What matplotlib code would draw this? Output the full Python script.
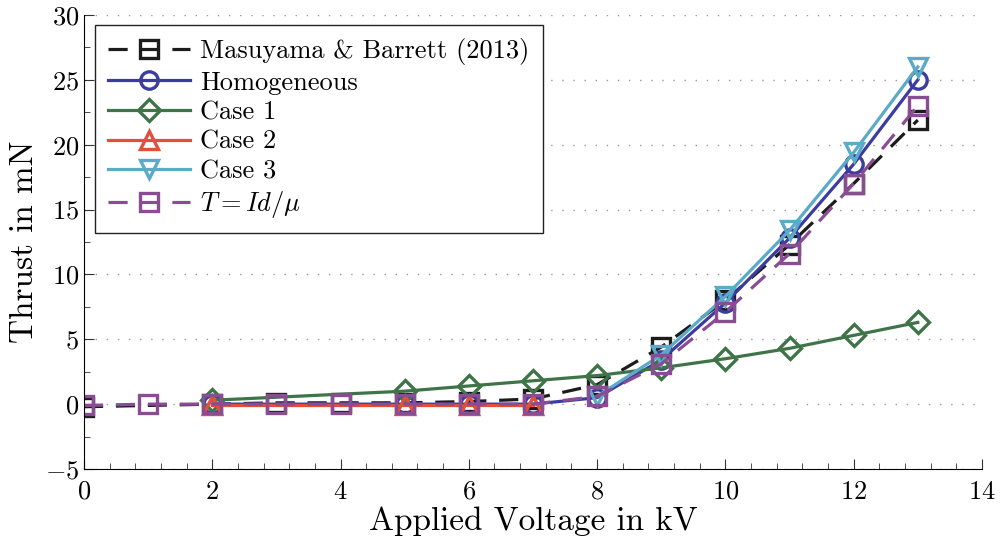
import numpy as np
import matplotlib
matplotlib.use('Agg')
import matplotlib.pyplot as plt
from matplotlib.ticker import MultipleLocator

plt.rcParams['font.family'] = 'serif'
plt.rcParams['font.serif'] = ['cmr10', 'DejaVu Serif']
plt.rcParams['mathtext.fontset'] = 'cm'
plt.rcParams['axes.formatter.use_mathtext'] = True

# thrust measurements / simulations (kV -> mN)
v_exp = [0, 2, 3, 4, 5, 6, 7, 8, 9, 10, 11, 12, 13]
t_exp = [-0.2, 0.0, 0.1, 0.1, 0.1, 0.2, 0.4, 1.5, 4.4, 8.0, 12.3, 17.0, 21.9]

v_homo = [2, 5, 6, 7, 8, 9, 10, 11, 12, 13]
t_homo = [0.0, 0.0, 0.0, 0.0, 0.5, 3.4, 7.8, 12.8, 18.5, 25.0]

v_case1 = [2, 5, 6, 7, 8, 9, 10, 11, 12, 13]
t_case1 = [0.3, 1.0, 1.4, 1.8, 2.2, 2.8, 3.5, 4.3, 5.3, 6.3]

v_case2 = [2, 5, 6, 7]
t_case2 = [-0.1, -0.1, -0.1, -0.1]

v_case3 = [8, 9, 10, 11, 12, 13]
t_case3 = [0.6, 3.8, 8.3, 13.4, 19.4, 26.0]

v_model = [0, 1, 2, 3, 4, 5, 6, 7, 8, 9, 10, 11, 12, 13]
t_model = [-0.1, 0.0, 0.0, 0.0, 0.0, 0.0, 0.0, 0.0, 0.6, 3.1, 7.1, 11.6, 17.0, 23.0]

fig = plt.figure(figsize=(10.03, 5.47), dpi=100)
ax = fig.add_axes([0.0837, 0.1426, 0.8953, 0.83])

mk = dict(markersize=12.5, markeredgewidth=2.4, markerfacecolor='none', linewidth=2.3)

ax.plot(v_exp, t_exp, '--s', color='#1c1c1c', dashes=(6, 4), label='Masuyama & Barrett (2013)', **mk)
ax.plot(v_homo, t_homo, '-o', color='#3c3ca0', label='Homogeneous', **mk)
ax.plot(v_case1, t_case1, '-D', color='#3e7448', label='Case 1', **dict(mk, markersize=11))
ax.plot(v_case2, t_case2, '-^', color='#e2503c', label='Case 2', **mk)
ax.plot(v_case3, t_case3, '-v', color='#5aaac8', label='Case 3', **mk)
ax.plot(v_model, t_model, '--s', color='#8a4c92', dashes=(6, 4), label=r'$T = Id/\mu$', **mk)

ax.set_xlim(0, 14)
ax.set_ylim(-5, 30)
ax.xaxis.set_major_locator(MultipleLocator(2))
ax.xaxis.set_minor_locator(MultipleLocator(0.4))
ax.yaxis.set_major_locator(MultipleLocator(5))
ax.yaxis.set_minor_locator(MultipleLocator(2.5))
ax.tick_params(which='both', direction='in', labelsize=19, color='#333333')
ax.tick_params(axis='x', pad=8)
ax.tick_params(which='major', length=7)
ax.tick_params(which='minor', length=4)
ax.spines['top'].set_visible(False)
ax.spines['right'].set_visible(False)
ax.grid(axis='y', which='major', linestyle=(0, (1, 7)), color='#999999', linewidth=1.0)

ax.set_xlabel('Applied Voltage in kV', fontsize=24, labelpad=2)
ax.set_ylabel('Thrust in mN', fontsize=24, labelpad=4)

leg = ax.legend(loc='upper left', fontsize=19, handlelength=3.1, handletextpad=0.4,
                borderpad=0.5, labelspacing=0.22, borderaxespad=0,
                fancybox=False, edgecolor='#222222', framealpha=1,
                bbox_to_anchor=(0.012, 0.978))
leg.get_frame().set_linewidth(1.0)

fig.savefig('out.png', dpi=100)
